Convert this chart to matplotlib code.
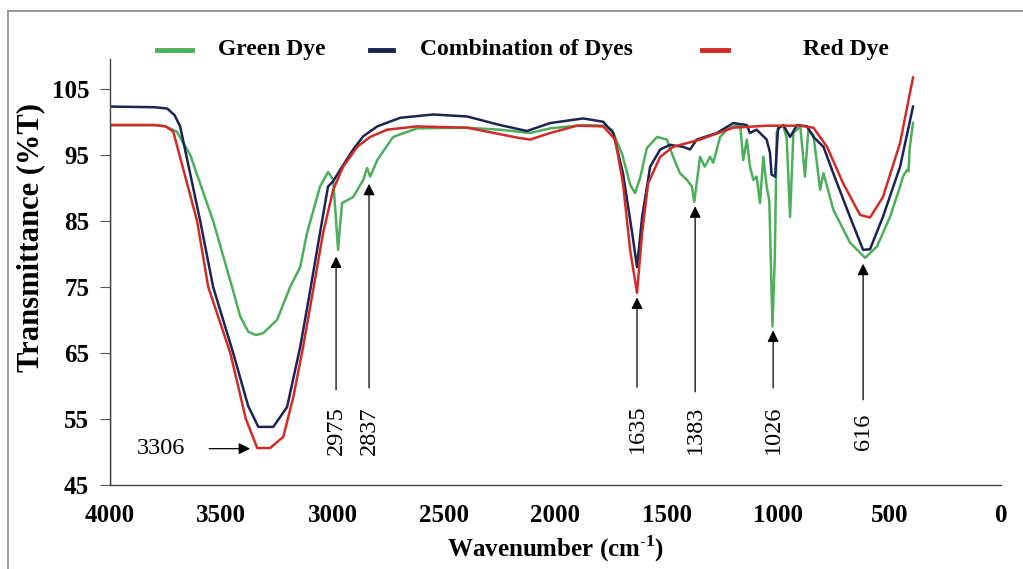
import matplotlib
matplotlib.use("Agg")
import matplotlib.pyplot as plt
from matplotlib.lines import Line2D

plt.rcParams['font.family'] = ['Liberation Serif', 'DejaVu Serif']
plt.rcParams['mathtext.fontset'] = 'custom'
plt.rcParams['mathtext.rm'] = 'Liberation Serif'
plt.rcParams['mathtext.bf'] = 'Liberation Serif:bold'

# Green Dye spectrum (wavenumber, %T)
green_wn = [4000, 3800, 3750, 3700, 3640, 3537, 3452, 3415, 3379, 3345, 3312, 3250, 3191,
            3146, 3115, 3057, 3021, 2998, 2985, 2976, 2968, 2958, 2908, 2863, 2846, 2832,
            2800, 2729, 2621, 2400, 2250, 2114, 2024, 1876, 1786, 1746, 1700, 1665, 1643,
            1620, 1590, 1544, 1500, 1472, 1441, 1410, 1388, 1377, 1351, 1330, 1306, 1292,
            1261, 1230, 1202, 1171, 1157, 1141, 1127, 1112, 1097, 1082, 1067, 1052, 1040,
            1026, 1015, 1007, 992, 977, 962, 947, 932, 901, 880, 865, 842, 812, 797, 775,
            753, 678, 610, 557, 498, 453, 440, 422, 415, 410, 395]
green_t = [99.5, 99.5, 99.3, 98.5, 95.0, 85.0, 75.0, 70.5, 68.2, 67.7, 68.0, 70.0, 75.0,
           78.0, 83.2, 90.2, 92.4, 91.2, 85.0, 80.6, 84.0, 87.7, 88.6, 91.2, 93.0, 91.7,
           94.2, 97.7, 99.0, 99.1, 98.8, 98.3, 99.0, 99.5, 99.4, 98.8, 95.0, 90.5, 89.2,
           91.5, 96.0, 97.7, 97.3, 94.7, 92.2, 91.2, 90.2, 87.9, 94.7, 93.2, 94.7, 93.8,
           97.7, 98.8, 99.3, 99.5, 94.2, 97.3, 93.2, 91.2, 91.7, 87.7, 94.7, 90.2, 88.0,
           69.0, 80.0, 98.3, 99.3, 99.3, 97.5, 85.6, 98.3, 99.3, 91.7, 98.8, 98.0, 89.7, 92.2, 89.5,
           86.7, 81.7, 79.4, 81.1, 85.6, 90.2, 91.7, 92.7, 92.5, 96.0, 99.8]

# Combination of Dyes spectrum
combo_wn = [4000, 3800, 3743, 3710, 3685, 3595, 3537, 3447, 3380, 3334, 3267, 3205, 3146,
            3101, 3057, 3021, 2998, 2967, 2908, 2863, 2800, 2697, 2549, 2397, 2249, 2128,
            2024, 1876, 1786, 1741, 1697, 1656, 1634, 1611, 1575, 1530, 1486, 1427, 1396,
            1366, 1275, 1202, 1141, 1127, 1097, 1052, 1037, 1030, 1014, 1001, 977, 947,
            916, 871, 842, 797, 753, 678, 619, 588, 530, 453, 395]
combo_t = [102.3, 102.2, 102.0, 101.0, 99.3, 85.0, 75.0, 65.0, 57.0, 53.8, 53.8, 56.8, 65.9,
           74.5, 83.2, 90.2, 91.0, 92.7, 95.8, 97.8, 99.3, 100.6, 101.1, 100.8, 99.5, 98.6,
           99.8, 100.5, 100.0, 98.3, 92.2, 83.2, 78.0, 85.6, 93.2, 95.8, 96.5, 96.2, 95.8,
           97.3, 98.3, 99.8, 99.5, 98.3, 98.8, 97.3, 95.3, 92.0, 91.7, 99.0, 99.5, 97.7,
           99.5, 99.3, 97.7, 96.2, 92.2, 85.6, 80.6, 80.7, 85.6, 93.2, 102.3]

# Red Dye spectrum
red_wn = [4000, 4000, 3800, 3750, 3716, 3609, 3559, 3460, 3390, 3339, 3281, 3222, 3177,
          3133, 3088, 3043, 2998, 2953, 2890, 2832, 2756, 2621, 2397, 2172, 2114, 2024,
          1903, 1786, 1732, 1697, 1665, 1634, 1611, 1584, 1530, 1472, 1351, 1202, 1052,
          901, 842, 781, 709, 633, 588, 530, 453, 395]
red_t = [45.0, 99.5, 99.5, 99.3, 98.5, 85.0, 75.0, 65.0, 55.0, 50.6, 50.6, 52.3, 58.3,
         65.9, 74.5, 83.2, 89.7, 93.2, 96.2, 97.7, 98.8, 99.3, 99.1, 97.6, 97.3, 98.3,
         99.4, 99.3, 97.3, 90.7, 80.6, 74.1, 83.2, 90.7, 94.7, 96.2, 97.3, 99.1, 99.4,
         99.4, 99.1, 96.2, 90.7, 85.9, 85.5, 88.6, 96.8, 106.7]

# vertical peak labels: label, arrow x, arrow tip %T, arrow tail %T
peak_labels = ['2975', '2837', '1635', '1383', '1026', '616']
peak_x = [2985, 2837, 1634, 1373, 1023, 619]
peak_tip = [79.6, 90.6, 73.4, 87.2, 68.4, 78.5]
peak_tail = [59.4, 59.7, 59.8, 59.1, 59.7, 57.9]
peak_text_y = [53.3, 53.3, 53.6, 53.3, 53.3, 53.0]

series_names = ['Green Dye', 'Combination of Dyes', 'Red Dye']
series_colors = ['#4dae5c', '#1b2452', '#d22b27']

fig = plt.figure(figsize=(10.23, 5.69), dpi=100)
ax = fig.add_axes([0.1075, 0.1476, 0.871, 0.7487])

ax.plot(green_wn, green_t, color=series_colors[0], lw=1.8)
ax.plot(combo_wn, combo_t, color=series_colors[1], lw=1.8)
ax.plot(red_wn, red_t, color=series_colors[2], lw=1.8)

ax.set_xlim(4000, 0)
ax.set_ylim(45, 109.5)
ax.set_yticks(range(45, 106, 10))
ax.set_xticks(range(4000, -1, -500))

for s in ['top', 'right']:
    ax.spines[s].set_visible(False)
for s in ['left', 'bottom']:
    ax.spines[s].set_color('#444444')
    ax.spines[s].set_linewidth(1.0)
ax.tick_params(axis='y', direction='out', length=7, color='#555555', pad=8)
ax.tick_params(axis='x', length=0, pad=14)
for lab in ax.get_xticklabels() + ax.get_yticklabels():
    lab.set_fontsize(18)
    lab.set_fontweight('bold')

ax.set_xlabel('Wavenumber (cm$^{\\text{-}\\mathbf{1}}$)', fontsize=18, fontweight='bold', labelpad=4)
ax.set_ylabel('Transmittance (%T)', fontsize=22, fontweight='bold')
ax.yaxis.set_label_coords(-0.073, 0.582)

arrow_kw = dict(arrowstyle='-|>', color='black', lw=0.9, mutation_scale=17, shrinkA=0, shrinkB=0)

# 3306 horizontal arrow
ax.annotate('', xy=(3371, 50.5), xytext=(3555, 50.5), arrowprops=arrow_kw)
ax.text(3770, 50.5, '3306', ha='center', va='center', fontsize=17.5)

for lab, x, tip, tail, ty in zip(peak_labels, peak_x, peak_tip, peak_tail, peak_text_y):
    ax.annotate('', xy=(x, tip), xytext=(x, tail), arrowprops=arrow_kw)
    ax.text(x, ty, lab, ha='center', va='center', rotation=90, fontsize=17.5)

# legend drawn by hand to follow the original spacing
leg_y = 1 - 50 / 569
leg_lines = [(157, 192), (370, 393), (702, 728)]
leg_text_x = [218, 420, 803]
for (x0, x1), tx, name, col in zip(leg_lines, leg_text_x, series_names, series_colors):
    fig.add_artist(Line2D([x0 / 1023, x1 / 1023], [leg_y, leg_y], color=col, lw=3.5))
    fig.text(tx / 1023, leg_y, name, ha='left', va='center', fontsize=17, fontweight='bold')

# thin frame on top and left of the figure
fig.add_artist(Line2D([8 / 1023, 1], [1 - 11 / 569, 1 - 11 / 569], color='#888888', lw=1.2))
fig.add_artist(Line2D([8 / 1023, 8 / 1023], [0, 1 - 11 / 569], color='#888888', lw=1.2))

fig.savefig('out.png', dpi=100)
